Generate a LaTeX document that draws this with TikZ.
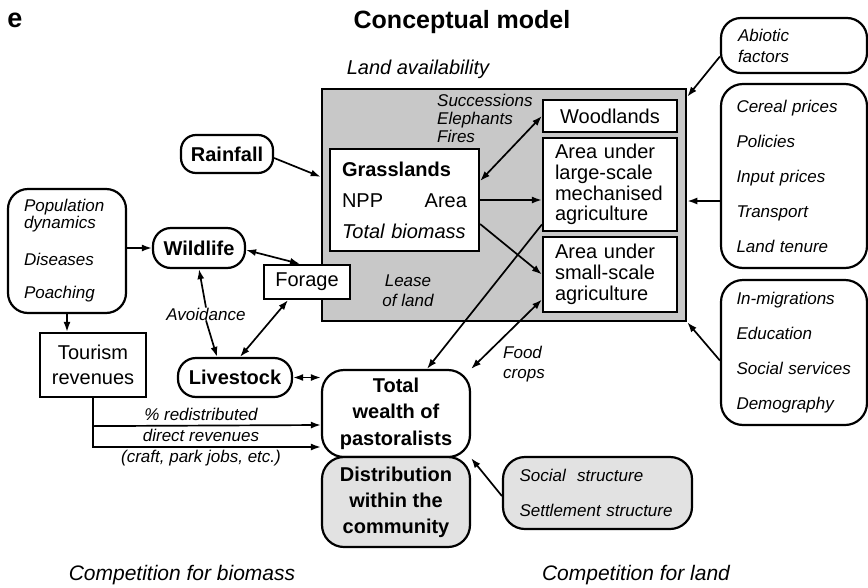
\documentclass[tikz,border=0pt]{standalone}
\usepackage{fontspec}
\setmainfont{Liberation Sans}
\usetikzlibrary{arrows.meta, calc}
\definecolor{landgrey}{RGB}{200,200,200}
\definecolor{paleg}{RGB}{226,226,226}
\tikzset{arr/.style={-{Latex[length=10pt,width=7pt]}, line width=1.7pt},
  dbl/.style={{Latex[length=10pt,width=7pt]}-{Latex[length=10pt,width=7pt]}, line width=1.7pt}}
\tikzset{box/.style={draw, line width=2.2pt, fill=white, inner sep=0pt,
    align=center, font=\fontsize{20}{21}\selectfont},
  rbox/.style={box, rounded corners=#1}, rbox/.default=16pt,
  lab/.style={inner sep=0pt, font=\fontsize{17}{18}\selectfont\itshape},
  biglab/.style={inner sep=0pt, font=\fontsize{21}{22}\selectfont\itshape}}

\begin{document}
\begin{tikzpicture}[x=1pt, y=-1pt]
      \useasboundingbox (0,0) rectangle (868,587);
      \node[font=\fontsize{27}{27}\selectfont\bfseries] (panel) at (15,20) {e};
      \node[font=\fontsize{25}{25}\selectfont\bfseries] (title) at (462,22) {Conceptual model};
      \node[biglab, font=\fontsize{20}{22}\selectfont\itshape] (landlab) at (418,69) {Land availability};
      % land box and its contents
      \node[draw, line width=2.6pt, fill=landgrey, minimum width=364pt,
        minimum height=232pt] (land) at (504,205) {};
      \node[box, minimum width=149pt, minimum height=102pt, text width=125pt,
        align=left, font=\fontsize{20}{31}\selectfont] (grass) at (404.5,200)
        {\textbf{Grasslands}\\NPP\hfill Area\\\textit{Total biomass}};
      \node[box, minimum width=134pt, minimum height=32pt] (wood) at (610,116) {Woodlands};
      \node[box, minimum width=134pt, minimum height=93pt, text width=110pt,
        align=left, font=\fontsize{20}{20.7}\selectfont] (large) at (610,184.5)
        {Area under\\large-scale\\mechanised\\agriculture};
      \node[box, minimum width=134pt, minimum height=75pt, text width=110pt,
        align=left, font=\fontsize{20}{20.7}\selectfont] (small) at (610,274.5)
        {Area under\\small-scale\\agriculture};
      \node[lab, anchor=west, align=left] (fires) at (437,118) {Successions\\Elephants\\Fires};
      \node[lab, align=center, font=\fontsize{17}{20}\selectfont\itshape] (lease) at (408,291) {Lease\\of land};
      % biomass side
      \node[rbox=15pt, minimum width=92pt, minimum height=38pt,
        font=\fontsize{20}{21}\selectfont\bfseries] (rain) at (227,154) {Rainfall};
      \node[rbox=20pt, minimum width=118pt, minimum height=124pt, text width=86pt,
        align=left, font=\fontsize{17}{17}\selectfont\itshape] (pop) at (67,251)
        {Population\\dynamics\\[20pt]Diseases\\[16pt]Poaching};
      \node[rbox=18pt, minimum width=92pt, minimum height=40pt,
        font=\fontsize{20}{21}\selectfont\bfseries] (wild) at (199,248) {Wildlife};
      \node[box, minimum width=86pt, minimum height=34pt] (forage) at (307,282) {Forage};
      \node[box, minimum width=106pt, minimum height=64pt,
        font=\fontsize{20}{25}\selectfont] (tour) at (93,365) {Tourism\\revenues};
      \node[rbox=18pt, minimum width=114pt, minimum height=39pt,
        font=\fontsize{20}{21}\selectfont\bfseries] (live) at (235,377.5) {Livestock};
      \node[lab] (avoid) at (206,314) {Avoidance};
      \node[rbox=22pt, minimum width=148pt, minimum height=87pt,
        font=\fontsize{20}{26.5}\selectfont\bfseries] (wealth) at (396,413.5)
        {Total\\wealth of\\pastoralists};
      \node[rbox=22pt, fill=paleg, minimum width=148pt, minimum height=90pt,
        font=\fontsize{20}{26}\selectfont\bfseries] (distr) at (396,502)
        {Distribution\\within the\\community};
      \node[lab, align=center, font=\fontsize{17}{21}\selectfont\itshape] (revlab) at (201,437)
        {\% redistributed\\direct revenues\\(craft, park jobs, etc.)};
      % land side
      \node[rbox=20pt, minimum width=146pt, minimum height=55pt, text width=112pt,
        align=left, font=\fontsize{17}{21}\selectfont\itshape] (abio) at (794,45.5)
        {Abiotic\\factors};
      \node[rbox=22pt, minimum width=146pt, minimum height=184pt, text width=115pt,
        align=left, font=\fontsize{17}{35}\selectfont\itshape] (cereal) at (794,176)
        {Cereal prices\\Policies\\Input prices\\Transport\\Land tenure};
      \node[rbox=22pt, minimum width=146pt, minimum height=145pt, text width=115pt,
        align=left, font=\fontsize{17}{35}\selectfont\itshape] (migr) at (794,352.5)
        {In-migrations\\Education\\Social services\\Demography};
      \node[rbox=22pt, fill=paleg, minimum width=189pt, minimum height=72pt, text width=156pt,
        align=left, font=\fontsize{17}{35}\selectfont\itshape] (social) at (597.5,493)
        {Social~~structure\\Settlement structure};
      \node[lab, anchor=west, align=left, font=\fontsize{17}{20}\selectfont\itshape] (food) at (503,364)
        {Food\\crops};
      \node[biglab] (compbio) at (182,575) {Competition for biomass};
      \node[biglab] (compland) at (636,575) {Competition for land};
      % connectors
      \draw[arr] ([yshift=-4pt]rain.east) -- ($(land.north west)!0.38!(land.south west)$);
      \draw[arr] (pop.east |- wild.west) -- (wild.west);
      \draw[arr] (pop.south) -- (tour.north -| pop.south);
      \draw[dbl] ([yshift=-2pt]wild.east) -- ([xshift=-7pt]forage.north);
      \draw[arr] (avoid.north) -- (wild.south);
      \draw[arr] (avoid.south) -- ([xshift=-18pt]live.north);
      \draw[dbl] ([xshift=-19pt]forage.south) -- ([xshift=5pt]live.north);
      \draw[dbl] (live.east) -- (live.east -| wealth.west);
      \draw[arr] (tour.south) |- ([yshift=-33.5pt]wealth.west);
      \draw[arr] ([yshift=-28pt]tour.south) -- ([yshift=-11.5pt]wealth.west);
      \draw[arr] (grass.east) -- (grass.east -| large.west);
      \draw[dbl] ([yshift=19pt]grass.east) -- (wood.west);
      \draw[arr] ([yshift=-24pt]grass.east) -- (small.west);
      \draw[arr] ([yshift=-40pt]large.west) -- ([xshift=31pt]wealth.north);
      \draw[dbl] ([yshift=-25pt]small.west) -- (wealth.north east);
      \draw[arr] ([yshift=-11pt]abio.west) -- ([yshift=-9pt]land.north east);
      \draw[arr] ([yshift=-25pt]cereal.west) -- ([yshift=-25pt]cereal.west -| land.east);
      \draw[arr] ([yshift=-8pt]migr.west) -- (land.south east);
      \draw[arr] ([yshift=-3pt]social.west) -- (wealth.south east);
\end{tikzpicture}
\end{document}
